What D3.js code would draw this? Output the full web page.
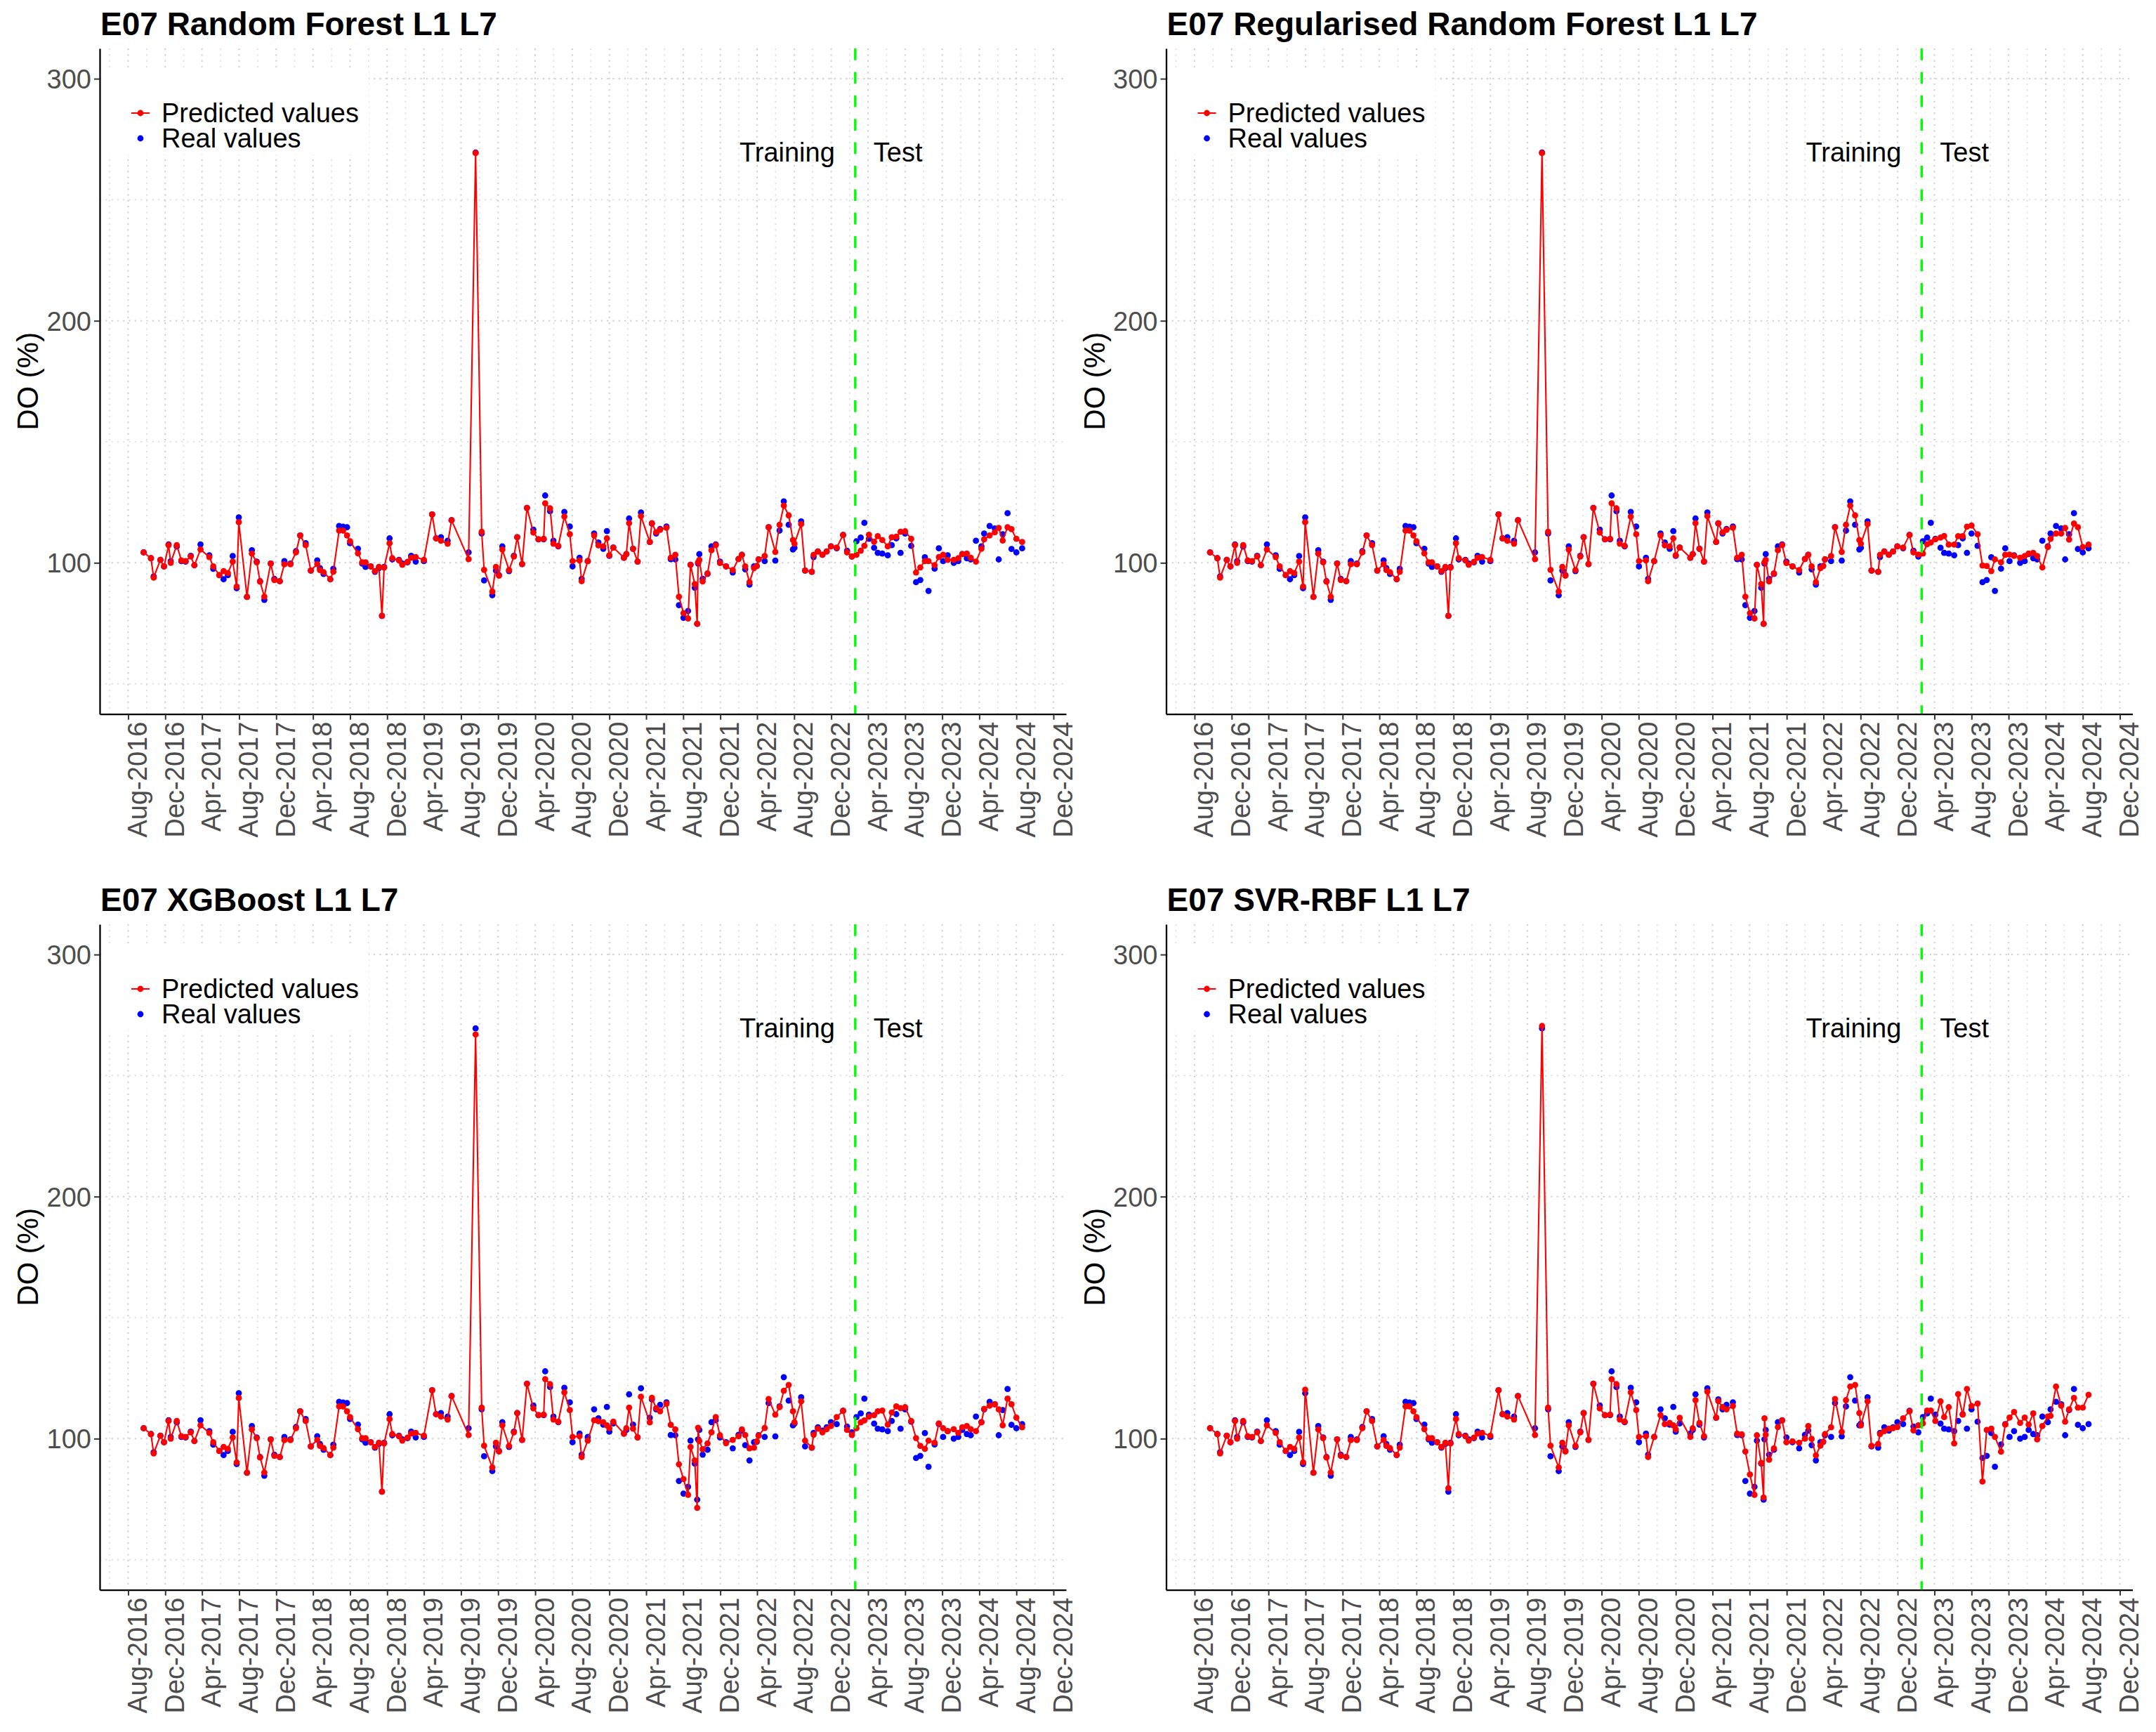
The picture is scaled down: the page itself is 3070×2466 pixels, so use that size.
<!DOCTYPE html>
<html>
<head>
<meta charset="utf-8">
<script src="https://cdn.jsdelivr.net/npm/d3@7"></script>
<style>
html, body { margin: 0; padding: 0; background: #ffffff; }
svg { display: block; }
text { font-family: "Liberation Sans", Arial, Helvetica, sans-serif; }
</style>
</head>
<body>
<svg id="chart" width="3070" height="2466"></svg>
<script>
// ---------------- DATA ----------------
const dates = [
"2016-09-21","2016-10-15","2016-10-24","2016-11-15","2016-11-27","2016-12-12","2016-12-19","2017-01-08","2017-01-23","2017-02-06",
"2017-02-23","2017-03-07","2017-03-27","2017-04-25","2017-05-08","2017-05-28","2017-06-11","2017-06-25","2017-07-11","2017-07-24",
"2017-07-31","2017-08-27","2017-09-12","2017-09-28","2017-10-09","2017-10-23","2017-11-13","2017-11-25","2017-12-13","2017-12-28",
"2018-01-17","2018-02-04","2018-02-18","2018-03-08","2018-03-25","2018-04-15","2018-04-24","2018-05-06","2018-05-28","2018-06-07",
"2018-06-26","2018-07-09","2018-07-22","2018-08-01","2018-08-27","2018-09-10","2018-09-21","2018-10-08","2018-10-22","2018-11-04",
"2018-11-14","2018-11-21","2018-12-09","2018-12-18","2019-01-09","2019-01-20","2019-02-06","2019-02-18","2019-03-05","2019-04-01",
"2019-04-28","2019-05-11","2019-05-27","2019-06-18","2019-07-01","2019-08-26","2019-09-18","2019-10-08","2019-10-16","2019-11-12",
"2019-11-24","2019-12-04","2019-12-15","2020-01-06","2020-01-22","2020-02-02","2020-02-18","2020-03-05","2020-03-26","2020-04-12",
"2020-04-29","2020-05-04","2020-05-20","2020-05-31","2020-06-16","2020-07-06","2020-07-24","2020-08-02","2020-08-25","2020-09-01",
"2020-09-21","2020-10-12","2020-10-26","2020-11-11","2020-11-23","2020-12-01","2020-12-14","2021-01-18","2021-01-26","2021-02-04",
"2021-02-17","2021-03-04","2021-03-15","2021-04-13","2021-04-20","2021-05-04","2021-05-17","2021-06-07","2021-06-21","2021-07-06",
"2021-07-18","2021-08-02","2021-08-17","2021-08-25","2021-09-08","2021-09-16","2021-09-19","2021-09-23","2021-10-04","2021-10-20",
"2021-11-02","2021-11-16","2021-11-30","2021-12-20","2022-01-11","2022-01-30","2022-02-10","2022-02-21","2022-03-07","2022-03-22",
"2022-03-31","2022-04-06","2022-04-26","2022-05-09","2022-05-31","2022-06-14","2022-06-28","2022-07-14","2022-07-28","2022-08-02",
"2022-08-24","2022-09-06","2022-09-28","2022-10-04","2022-10-18","2022-11-02","2022-11-16","2022-11-30","2022-12-19","2023-01-09",
"2023-01-22","2023-02-07","2023-02-22","2023-03-08","2023-03-20","2023-04-04","2023-04-21","2023-05-03","2023-05-18","2023-06-05",
"2023-06-18","2023-07-03","2023-07-17","2023-08-01","2023-08-21","2023-09-06","2023-09-20","2023-10-05","2023-10-17","2023-11-06",
"2023-11-20","2023-12-04","2023-12-19","2024-01-08","2024-01-23","2024-02-05","2024-02-20","2024-03-04","2024-03-21","2024-04-08",
"2024-04-17","2024-05-05","2024-05-22","2024-06-04","2024-06-17","2024-07-03","2024-07-16","2024-08-01","2024-08-20"
];

const realValues = [
104.3,101.9,94.4,101.2,98.5,107.6,100.7,106.7,100.7,100.5,
102.9,99.0,107.6,103.1,97.5,94.9,93.2,94.9,102.8,89.5,
118.8,85.9,105.2,100.5,92.4,84.7,99.7,93.4,92.4,100.7,
99.7,104.8,111.3,108.1,96.8,101.0,97.8,95.4,93.2,97.5,
115.2,114.9,114.7,108.1,105.8,99.7,98.3,98.5,96.3,97.8,
78.1,98.3,110.1,101.4,101.2,99.7,100.2,102.9,100.5,100.7,
120.0,110.1,110.6,109.1,117.6,104.3,269.5,112.1,92.7,86.6,
96.8,94.9,106.8,96.6,102.9,110.6,99.5,122.7,113.7,109.7,
109.7,127.8,121.3,109.1,106.8,121.0,115.0,98.5,102.1,93.4,
100.7,112.1,108.4,105.8,113.1,102.9,106.3,102.1,103.6,118.3,
105.8,100.5,120.8,108.6,116.2,112.1,114.0,115.0,101.5,101.4,
82.5,77.3,80.1,99.2,89.7,74.8,99.7,103.6,93.4,95.4,
106.8,107.6,100.5,98.5,96.0,101.6,103.3,97.3,91.0,98.5,
98.7,101.4,100.7,114.7,100.9,113.3,125.4,115.7,105.5,106.2,
117.1,96.8,96.3,102.4,104.7,103.3,104.7,106.8,106.0,111.5,
105.0,102.6,108.9,110.4,116.5,109.9,106.2,104.1,103.8,103.1,
107.3,110.1,104.1,112.1,107.0,92.0,92.9,102.3,88.4,97.6,
106.0,100.7,103.1,100.0,100.7,103.6,101.9,101.4,109.1,106.8,
112.1,115.2,114.2,101.4,111.8,120.5,105.7,104.3,106.0
];

const predRF = [
104.3,101.9,93.9,101.2,98.5,107.3,100.0,107.3,101.0,100.7,
102.6,99.0,105.5,102.4,98.5,94.9,96.6,95.8,100.5,90.2,
116.8,85.9,103.8,100.2,92.2,86.0,99.7,92.9,92.4,99.4,
99.4,104.3,111.3,107.3,96.8,99.5,97.0,96.1,93.2,96.3,
113.3,113.3,111.3,108.9,103.9,100.2,100.2,98.5,96.6,98.3,
78.1,98.0,108.1,101.9,101.0,99.2,100.4,102.1,102.4,101.2,
120.0,110.1,109.1,107.9,117.6,101.5,269.3,112.8,97.1,88.1,
98.3,94.7,105.5,97.0,102.6,110.6,99.5,122.7,112.5,109.7,
109.9,124.6,122.5,107.9,107.0,119.1,111.8,100.7,101.0,92.4,
100.7,111.3,107.2,106.8,110.1,103.1,106.3,102.1,103.6,116.4,
105.8,100.5,119.3,108.6,116.4,112.6,113.6,114.5,102.1,103.3,
86.0,79.2,77.0,99.2,91.2,74.8,100.2,101.2,92.3,95.6,
105.2,107.3,99.9,98.5,97.0,101.6,103.3,98.5,92.0,97.8,
98.7,101.4,102.8,114.7,104.5,115.7,123.6,119.6,109.4,107.9,
116.0,96.8,96.3,103.3,104.7,103.3,104.7,106.8,106.3,111.5,
104.3,102.6,103.3,105.0,107.0,111.6,108.7,111.0,109.4,106.8,
110.6,110.8,112.8,113.0,109.9,96.0,98.1,100.7,100.7,99.0,
102.4,103.3,101.2,101.2,101.9,103.6,103.8,102.1,100.5,105.8,
109.7,111.3,112.6,114.4,109.2,114.7,113.9,109.9,108.6
];

const predRRF = [
104.3,101.9,93.9,101.2,98.5,107.3,100.0,107.3,101.0,100.7,
102.6,99.0,105.5,102.4,98.5,94.9,96.6,95.8,100.5,90.2,
116.8,85.9,103.8,100.2,92.2,86.0,99.7,92.9,92.4,99.4,
99.4,104.3,111.3,107.3,96.8,99.5,97.0,96.1,93.2,96.3,
113.3,113.3,111.3,108.9,103.9,100.2,100.2,98.5,96.6,98.3,
78.1,98.0,108.1,101.9,101.0,99.2,100.4,102.1,102.4,101.2,
120.0,110.1,109.1,107.9,117.6,101.5,269.3,112.8,97.1,88.1,
98.3,94.7,105.5,97.0,102.6,110.6,99.5,122.7,112.5,109.7,
109.9,124.6,122.5,107.9,107.0,119.1,111.8,100.7,101.0,92.4,
100.7,111.3,107.2,106.8,110.1,103.1,106.3,102.1,103.6,116.4,
105.8,100.5,119.3,108.6,116.4,112.6,113.6,114.5,102.1,103.3,
86.0,79.2,77.0,99.2,91.2,74.8,100.2,101.2,92.3,95.6,
105.2,107.3,99.9,98.5,97.0,101.6,103.3,98.5,92.0,97.8,
98.7,101.4,102.8,114.7,104.5,115.7,123.6,119.6,109.4,107.9,
116.0,96.8,96.3,103.3,104.7,103.3,104.7,106.8,106.3,111.5,
104.3,103.4,103.8,107.7,108.4,109.7,110.4,111.1,107.5,107.5,
111.0,111.0,114.9,115.4,111.8,98.9,98.7,96.6,101.4,100.2,
103.3,103.4,102.9,102.1,102.8,103.8,104.1,102.8,98.1,106.5,
109.9,112.1,112.1,114.4,109.6,116.2,114.7,106.5,107.5
];

const predXGB = [
104.3,101.9,93.9,101.2,98.5,107.3,100.0,107.3,101.0,100.7,
102.6,99.0,105.5,102.4,98.5,94.9,96.6,95.8,100.5,90.2,
116.8,85.9,103.8,100.2,92.2,86.0,99.7,92.9,92.4,99.4,
99.4,104.3,111.3,107.3,96.8,99.5,97.0,96.1,93.2,96.3,
113.3,113.3,111.3,108.9,103.9,100.2,100.2,98.5,96.6,98.3,
78.1,98.0,108.1,101.9,101.0,99.2,100.4,102.1,102.4,101.2,
120.0,110.1,109.1,107.9,117.6,101.5,267.0,112.8,97.1,88.1,
98.3,94.7,105.5,97.0,102.6,110.6,99.5,122.7,112.5,109.7,
109.9,124.6,122.5,107.9,107.0,119.1,111.8,100.7,101.0,92.4,
99.2,107.6,107.2,106.8,105.5,104.3,107.0,102.1,104.3,112.8,
104.1,100.5,117.3,106.7,116.9,112.6,111.3,114.4,105.7,103.8,
89.4,83.3,76.8,96.6,91.0,71.4,104.5,99.0,95.6,98.0,
102.6,108.9,101.4,98.1,99.5,101.0,103.8,101.5,96.0,96.3,
98.9,101.2,104.4,116.4,109.9,113.0,119.8,122.2,111.3,106.7,
115.4,99.2,96.3,101.6,104.1,102.6,103.9,105.2,108.9,111.5,
103.6,101.5,104.3,106.7,107.5,109.1,109.7,111.3,111.6,105.8,
110.8,113.3,112.6,113.0,107.3,100.2,97.0,95.8,99.2,98.3,
106.3,104.3,103.1,103.9,102.4,104.7,105.2,103.9,103.1,106.7,
112.3,113.6,114.2,112.1,105.5,116.5,114.2,108.7,104.7
];

const predSVR = [
104.3,101.9,93.9,101.2,98.5,107.3,100.0,107.3,101.0,100.7,
102.6,99.0,105.5,102.4,98.5,94.9,96.6,95.8,100.5,90.2,
120.2,85.9,103.8,100.2,92.2,86.0,99.7,92.9,92.4,99.4,
99.4,104.3,111.3,107.3,96.8,99.5,97.0,96.1,93.2,96.3,
113.3,113.3,111.3,108.9,103.9,100.2,100.2,98.5,96.6,98.3,
79.5,98.0,108.1,101.9,101.0,99.2,100.4,102.1,102.4,101.2,
120.0,110.1,109.1,107.9,117.6,101.5,270.5,112.8,97.1,88.1,
98.3,94.7,105.5,97.0,102.6,110.6,99.5,122.7,112.5,109.7,
109.9,124.6,122.5,107.9,107.0,119.1,111.8,100.7,101.0,92.4,
100.7,109.7,106.0,106.5,105.5,103.8,108.6,100.7,104.3,115.9,
106.5,101.0,119.4,108.7,115.5,113.0,112.1,113.5,102.1,101.8,
94.7,85.2,76.8,101.4,90.0,75.7,108.4,101.6,91.3,96.0,
104.8,107.5,98.5,98.9,98.3,100.0,105.2,99.9,93.1,97.1,
98.7,101.9,104.7,116.4,102.8,115.9,121.5,122.2,110.6,105.5,
115.4,97.0,97.8,101.9,103.1,104.1,104.3,104.8,108.4,111.3,
103.4,105.5,106.3,111.6,111.6,107.3,115.4,108.9,113.0,98.0,
118.4,109.9,120.5,113.5,114.5,82.3,103.6,104.1,100.7,94.6,
105.8,108.7,111.0,106.5,108.7,105.8,110.4,99.7,105.2,109.1,
109.4,121.5,113.6,107.0,112.1,116.8,112.8,112.8,118.1
];

const splitDate = "2023-02-18";
const yLimits = [50, 300];
const yTickValues = [100, 200, 300];
const tickLabels = ["Aug-2016","Dec-2016","Apr-2017","Aug-2017","Dec-2017","Apr-2018","Aug-2018","Dec-2018",
  "Apr-2019","Aug-2019","Dec-2019","Apr-2020","Aug-2020","Dec-2020","Apr-2021","Aug-2021","Dec-2021",
  "Apr-2022","Aug-2022","Dec-2022","Apr-2023","Aug-2023","Dec-2023","Apr-2024","Aug-2024","Dec-2024"];
const panelTitles = ["E07 Random Forest L1 L7", "E07 Regularised Random Forest L1 L7", "E07 XGBoost L1 L7", "E07 SVR-RBF L1 L7"];
const panelPreds = [predRF, predRRF, predXGB, predSVR];
const legendLabels = ["Predicted values", "Real values"];
const periodLabels = ["Training", "Test"];

// ---------------- LAYOUT ----------------
const W = 3070, H = 2466;
const plotLeft0 = 142, plotTop0 = 69;
const plotW = 1376, plotH = 947.7;
const colStep = 1518.5, rowStep = 1247;
const RED = "#FF0000", BLUE = "#0000FF", GREEN = "#00FF00";
const FONT = "'Liberation Sans', Arial, Helvetica, sans-serif";

const svg = d3.select("#chart");
svg.append("rect").attr("x", 0).attr("y", 0).attr("width", W).attr("height", H).attr("fill", "#ffffff");

const parseDate = d3.timeParse("%Y-%m-%d");
const parseTick = d3.timeParse("%b-%Y");
const dts = dates.map(parseDate);
const ext = d3.extent(dts);
const span = ext[1] - ext[0];
const xDomain = [new Date(+ext[0] - 0.05 * span), new Date(+ext[1] + 0.05 * span)];
const yr = yLimits[1] - yLimits[0];
const yDomain = [yLimits[0] - 0.05 * yr, yLimits[1] + 0.05 * yr];
const tickDates = tickLabels.map(parseTick);
const split = parseDate(splitDate);

panelTitles.forEach((title, i) => {
  const col = i % 2, row = Math.floor(i / 2);
  const left = plotLeft0 + col * colStep, top = plotTop0 + row * rowStep;
  const preds = panelPreds[i];
  const data = dts.map((d, k) => ({ date: d, real: realValues[k], pred: preds[k] }));

  const x = d3.scaleTime().domain(xDomain).range([0, plotW]);
  const y = d3.scaleLinear().domain(yDomain).range([plotH, 0]);

  // Title
  svg.append("text")
    .attr("x", left + 1).attr("y", top - 19)
    .attr("font-family", FONT).attr("font-weight", "bold").attr("font-size", 46)
    .attr("fill", "#000").text(title);

  const g = svg.append("g").attr("transform", `translate(${left},${top})`);

  // Minor gridlines
  const minorX = [];
  for (let k = 0; k < tickDates.length - 1; k++) {
    minorX.push(new Date((+tickDates[k] + +tickDates[k + 1]) / 2));
  }
  const firstMinor = new Date(+tickDates[0] - (+tickDates[1] - +tickDates[0]) / 2);
  if (firstMinor >= xDomain[0]) minorX.unshift(firstMinor);
  const lastMinor = new Date(+tickDates[tickDates.length - 1] + (+tickDates[tickDates.length - 1] - +tickDates[tickDates.length - 2]) / 2);
  if (lastMinor <= xDomain[1]) minorX.push(lastMinor);
  const minorY = [];
  for (let k = 0; k < yTickValues.length; k++) {
    const m = yTickValues[k] - 50;
    if (m >= yDomain[0]) minorY.push(m);
  }

  const grid = g.append("g");
  grid.selectAll("line.mx").data(minorX).enter().append("line")
    .attr("x1", d => x(d)).attr("x2", d => x(d)).attr("y1", 0).attr("y2", plotH)
    .attr("stroke", "#dcdcdc").attr("stroke-width", 1.6).attr("stroke-dasharray", "2.2,6.1");
  grid.selectAll("line.my").data(minorY).enter().append("line")
    .attr("x1", 0).attr("x2", plotW).attr("y1", d => y(d)).attr("y2", d => y(d))
    .attr("stroke", "#dcdcdc").attr("stroke-width", 1.6).attr("stroke-dasharray", "2.2,6.1");
  grid.selectAll("line.Mx").data(tickDates).enter().append("line")
    .attr("x1", d => x(d)).attr("x2", d => x(d)).attr("y1", 0).attr("y2", plotH)
    .attr("stroke", "#d0d0d0").attr("stroke-width", 2).attr("stroke-dasharray", "2.2,6.1");
  grid.selectAll("line.My").data(yTickValues).enter().append("line")
    .attr("x1", 0).attr("x2", plotW).attr("y1", d => y(d)).attr("y2", d => y(d))
    .attr("stroke", "#d0d0d0").attr("stroke-width", 2).attr("stroke-dasharray", "2.2,6.1");

  // Real values (blue points)
  g.append("g").selectAll("circle").data(data).enter().append("circle")
    .attr("cx", d => x(d.date)).attr("cy", d => y(d.real)).attr("r", 4.4).attr("fill", BLUE);

  // Predicted line + points
  const line = d3.line().x(d => x(d.date)).y(d => y(d.pred));
  g.append("path").datum(data).attr("d", line)
    .attr("fill", "none").attr("stroke", RED).attr("stroke-width", 2.1).attr("stroke-linejoin", "round");
  g.append("g").selectAll("circle").data(data).enter().append("circle")
    .attr("cx", d => x(d.date)).attr("cy", d => y(d.pred)).attr("r", 4.4).attr("fill", RED);

  // Split line
  g.append("line")
    .attr("x1", x(split)).attr("x2", x(split)).attr("y1", 0).attr("y2", plotH)
    .attr("stroke", GREEN).attr("stroke-width", 3.4).attr("stroke-dasharray", "16.7,16.7");

  // Training / Test annotations
  g.append("text").attr("x", x(split) - 29).attr("y", 161)
    .attr("text-anchor", "end").attr("font-family", FONT).attr("font-size", 38).attr("fill", "#000")
    .text(periodLabels[0]);
  g.append("text").attr("x", x(split) + 26).attr("y", 161)
    .attr("text-anchor", "start").attr("font-family", FONT).attr("font-size", 38).attr("fill", "#000")
    .text(periodLabels[1]);

  // Axes
  const xAxis = d3.axisBottom(x).tickValues(tickDates).tickFormat(d3.timeFormat("%b-%Y"))
    .tickSize(8).tickSizeOuter(0);
  const gx = g.append("g").attr("transform", `translate(0,${plotH})`).call(xAxis);
  gx.select(".domain").attr("stroke", "#000").attr("stroke-width", 2.3);
  gx.selectAll(".tick line").attr("stroke", "#333").attr("stroke-width", 2);
  gx.selectAll(".tick text")
    .attr("transform", "rotate(-90)")
    .attr("x", -11).attr("y", 0).attr("dy", "26px")
    .attr("text-anchor", "end")
    .attr("font-family", FONT).attr("font-size", 38).attr("fill", "#4d4d4d");

  const yAxis = d3.axisLeft(y).tickValues(yTickValues).tickFormat(d3.format("d"))
    .tickSize(8).tickSizeOuter(0).tickPadding(4);
  const gy = g.append("g").call(yAxis);
  gy.select(".domain").attr("stroke", "#000").attr("stroke-width", 2.3);
  gy.selectAll(".tick line").attr("stroke", "#333").attr("stroke-width", 2);
  gy.selectAll(".tick text")
    .attr("font-family", FONT).attr("font-size", 38).attr("fill", "#4d4d4d").attr("dy", "0.35em");

  // Y axis title
  svg.append("text")
    .attr("transform", `translate(${left - 88},${top + plotH / 2}) rotate(-90)`)
    .attr("text-anchor", "middle")
    .attr("font-family", FONT).attr("font-size", 42).attr("fill", "#000")
    .text("DO (%)");

  // Legend
  const lg = g.append("g");
  lg.append("rect").attr("x", 6).attr("y", 33).attr("width", 377).attr("height", 118).attr("fill", "#ffffff");
  lg.append("line").attr("x1", 45).attr("x2", 71).attr("y1", 92).attr("y2", 92)
    .attr("stroke", RED).attr("stroke-width", 2.1);
  lg.append("circle").attr("cx", 58).attr("cy", 92).attr("r", 4.4).attr("fill", RED);
  lg.append("circle").attr("cx", 58).attr("cy", 128).attr("r", 4.4).attr("fill", BLUE);
  lg.append("text").attr("x", 88).attr("y", 92).attr("dy", "0.35em")
    .attr("font-family", FONT).attr("font-size", 38).attr("fill", "#000").text(legendLabels[0]);
  lg.append("text").attr("x", 88).attr("y", 128).attr("dy", "0.35em")
    .attr("font-family", FONT).attr("font-size", 38).attr("fill", "#000").text(legendLabels[1]);
});
</script>
</body>
</html>
